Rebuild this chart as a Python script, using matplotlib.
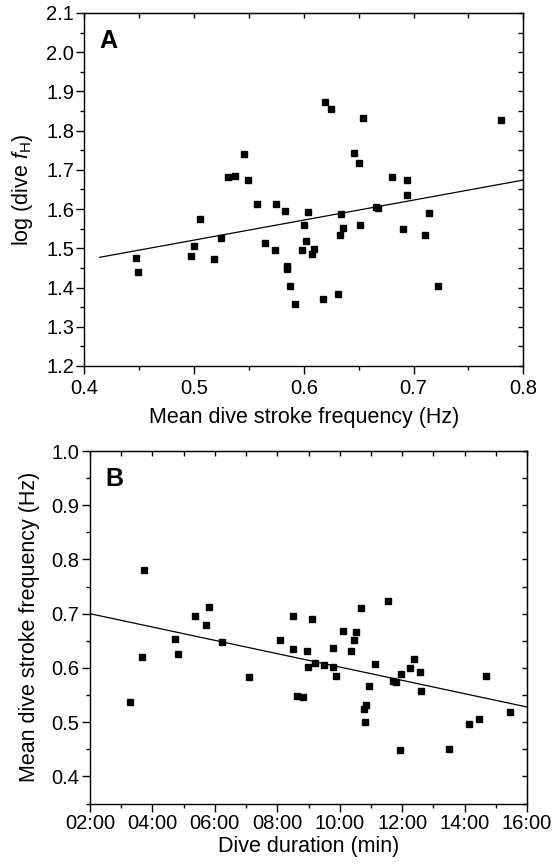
import numpy as np
import matplotlib
matplotlib.use('Agg')
import matplotlib.pyplot as plt
from matplotlib.ticker import MultipleLocator, FuncFormatter

plt.rcParams['font.family'] = ['Liberation Sans', 'DejaVu Sans']
plt.rcParams['mathtext.fontset'] = 'custom'
plt.rcParams['mathtext.rm'] = 'Liberation Sans'
plt.rcParams['mathtext.it'] = 'Liberation Sans:italic'

# Panel A: mean dive stroke frequency (Hz) vs log(dive fH)
a_freq = [0.619, 0.625, 0.654, 0.780, 0.545, 0.646, 0.650, 0.531, 0.537, 0.549,
          0.680, 0.694, 0.694, 0.557, 0.575, 0.583, 0.604, 0.505, 0.634, 0.666,
          0.668, 0.714, 0.600, 0.636, 0.651, 0.633, 0.690, 0.710, 0.524, 0.602,
          0.565, 0.500, 0.574, 0.598, 0.609, 0.607, 0.497, 0.447, 0.518, 0.585,
          0.585, 0.449, 0.587, 0.722, 0.631, 0.617, 0.592]
a_logfh = [1.874, 1.854, 1.831, 1.827, 1.740, 1.744, 1.718, 1.683, 1.685, 1.673,
           1.683, 1.673, 1.636, 1.614, 1.614, 1.596, 1.593, 1.576, 1.588, 1.605,
           1.603, 1.591, 1.560, 1.553, 1.559, 1.533, 1.550, 1.535, 1.527, 1.519,
           1.514, 1.507, 1.496, 1.495, 1.499, 1.485, 1.481, 1.476, 1.472, 1.455,
           1.447, 1.440, 1.405, 1.403, 1.384, 1.372, 1.358]
a_fit_slope = 0.51
a_fit_icpt = 1.266
a_fit_range = [0.414, 0.8]

# Panel B: dive duration (min) vs mean dive stroke frequency (Hz)
b_dur = [3.72, 5.81, 10.68, 11.55, 5.36, 8.49, 9.11, 5.73, 4.72, 6.23,
         3.66, 4.82, 8.09, 8.49, 8.96, 10.12, 10.51, 10.45, 9.79, 10.36,
         9.21, 8.98, 9.49, 9.80, 9.89, 11.13, 7.10, 12.38, 12.24, 12.57,
         11.96, 11.72, 11.80, 14.69, 10.94, 12.60, 3.27, 8.63, 8.82, 10.84,
         10.79, 10.82, 15.44, 14.14, 14.46, 11.94, 13.50]
b_freq = [0.780, 0.713, 0.710, 0.723, 0.695, 0.695, 0.691, 0.680, 0.654, 0.647,
          0.620, 0.625, 0.651, 0.634, 0.632, 0.668, 0.666, 0.651, 0.636, 0.631,
          0.610, 0.601, 0.605, 0.601, 0.586, 0.607, 0.583, 0.617, 0.599, 0.592,
          0.588, 0.576, 0.574, 0.586, 0.566, 0.558, 0.538, 0.549, 0.546, 0.531,
          0.525, 0.501, 0.518, 0.497, 0.505, 0.448, 0.450]
b_fit_slope = -0.01229
b_fit_icpt = 0.7246
b_fit_range = [2, 16]

TICK_FS = 14.5
LABEL_FS = 15.5

fig = plt.figure(figsize=(5.58, 8.64), dpi=100)
axA = fig.add_axes([0.1514, 0.5764, 0.7864, 0.4086])
axB = fig.add_axes([0.1613, 0.0700, 0.7832, 0.4080])

def style(ax, xpad):
    for s in ax.spines.values():
        s.set_linewidth(1.0)
    ax.tick_params(which='both', direction='out', top=False, right=False,
                   labelsize=TICK_FS, width=1.0)
    ax.tick_params(which='major', length=5.5, pad=2)
    ax.tick_params(axis='x', which='major', pad=xpad)
    ax.tick_params(which='minor', length=3)
    # mirrored ticks on top and right, pointing inward
    sx = ax.secondary_xaxis('top')
    sx.tick_params(which='both', direction='in', labeltop=False, width=1.0, length=3.3)
    sx.set_xticklabels([])
    sy = ax.secondary_yaxis('right')
    sy.tick_params(which='both', direction='in', labelright=False, width=1.0, length=3.3)
    sy.set_yticklabels([])
    return sx, sy

# Panel A
axA.plot(a_freq, a_logfh, 's', color='black', markersize=5)
xa = np.array(a_fit_range)
axA.plot(xa, a_fit_slope * xa + a_fit_icpt, color='black', linewidth=0.9)
axA.set_xlim(0.4, 0.8)
axA.set_ylim(1.2, 2.1)
axA.xaxis.set_major_locator(MultipleLocator(0.1))
axA.xaxis.set_minor_locator(MultipleLocator(0.05))
axA.yaxis.set_major_locator(MultipleLocator(0.1))
axA.yaxis.set_minor_locator(MultipleLocator(0.05))
axA.xaxis.set_major_formatter(FuncFormatter(lambda v, p: f'{v:.1f}'))
axA.yaxis.set_major_formatter(FuncFormatter(lambda v, p: f'{v:.1f}'))
sx, sy = style(axA, 4)
sx.xaxis.set_major_locator(MultipleLocator(0.05))
sy.yaxis.set_major_locator(MultipleLocator(0.05))
axA.set_xlabel('Mean dive stroke frequency (Hz)', fontsize=LABEL_FS, labelpad=6)
axA.set_ylabel(r'log (dive $\mathit{f}_\mathrm{H}$)', fontsize=LABEL_FS, labelpad=8)
axA.text(0.035, 0.955, 'A', transform=axA.transAxes, fontsize=18,
         fontweight='bold', va='top', ha='left')

# Panel B
axB.plot(b_dur, b_freq, 's', color='black', markersize=5)
xb = np.array(b_fit_range)
axB.plot(xb, b_fit_slope * xb + b_fit_icpt, color='black', linewidth=0.9)
axB.set_xlim(2, 16)
axB.set_ylim(0.35, 1.0)
axB.xaxis.set_major_locator(MultipleLocator(2))
axB.xaxis.set_minor_locator(MultipleLocator(1))
axB.yaxis.set_major_locator(MultipleLocator(0.1))
axB.yaxis.set_minor_locator(MultipleLocator(0.05))
axB.xaxis.set_major_formatter(FuncFormatter(lambda v, p: f'{int(round(v)):02d}:00'))
axB.yaxis.set_major_formatter(FuncFormatter(lambda v, p: f'{v:.1f}'))
sx, sy = style(axB, 2)
sx.xaxis.set_major_locator(MultipleLocator(1))
sy.yaxis.set_major_locator(MultipleLocator(0.05))
axB.set_xlabel('Dive duration (min)', fontsize=LABEL_FS, labelpad=2)
axB.set_ylabel('Mean dive stroke frequency (Hz)', fontsize=LABEL_FS, labelpad=8)
axB.text(0.035, 0.955, 'B', transform=axB.transAxes, fontsize=18,
         fontweight='bold', va='top', ha='left')

fig.savefig('out.png', dpi=100)
